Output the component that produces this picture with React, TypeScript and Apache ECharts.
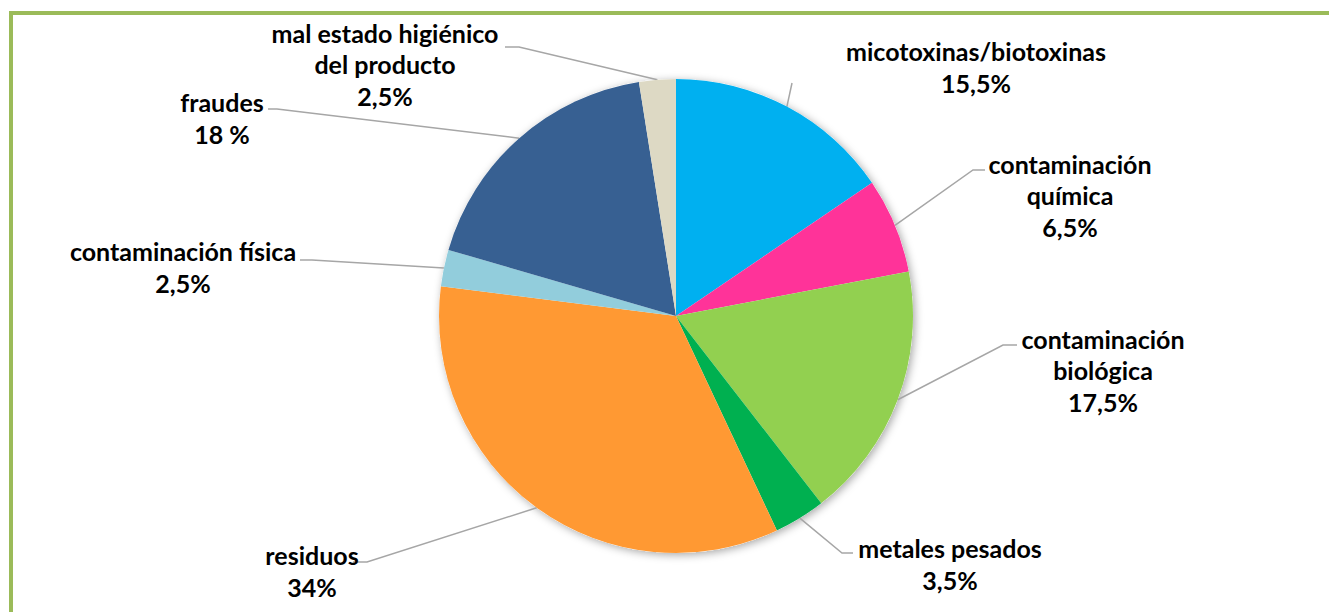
import React, { useEffect, useRef } from "react";
import * as echarts from "echarts";

const categories = [
  "micotoxinas/biotoxinas",
  "contaminación\nquímica",
  "contaminación\nbiológica",
  "metales pesados",
  "residuos",
  "contaminación física",
  "fraudes",
  "mal estado higiénico\ndel producto",
];
const values = [15.5, 6.5, 17.5, 3.5, 34, 2.5, 18, 2.5];
const valueLabels = ["15,5%", "6,5%", "17,5%", "3,5%", "34%", "2,5%", "18 %", "2,5%"];
const colors = ["#00B0F0", "#FF3399", "#92D050", "#00B050", "#FF9933", "#92CDDC", "#376092", "#DDD9C4"];

// label layout (centre of label block) and leader-line bend / end points, in px
const labelCenters: [number, number][] = [
  [976, 67],
  [1070, 195],
  [1103, 370],
  [950, 564],
  [312, 571],
  [183, 267],
  [222, 118],
  [385, 64],
];
const lineBends: [number, number][] = [
  [792, 83],
  [973, 170],
  [1003, 345],
  [842, 553],
  [367, 562],
  [312, 260],
  [277, 109],
  [519, 47],
];
const lineEnds: [number, number][] = [
  [792, 83],
  [985, 170],
  [1017, 345],
  [853, 553],
  [353, 562],
  [300, 260],
  [268, 109],
  [505, 47],
];

export default function App() {
  const ref = useRef<HTMLDivElement>(null);
  useEffect(() => {
    if (!ref.current) return;
    const chart = echarts.init(ref.current, null, { renderer: "svg" });
    const center = [676, 316];
    const radius = 237;
    chart.setOption({
      animation: false,
      backgroundColor: "#ffffff",
      graphic: [
        {
          type: "rect",
          shape: { x: 11, y: 13, width: 1330, height: 620 },
          style: { fill: "none", stroke: "#9BBB59", lineWidth: 4 },
          silent: true,
          z: 0,
        },
      ],
      series: [
        {
          type: "pie",
          silent: true,
          center,
          radius,
          startAngle: 90,
          clockwise: true,
          data: [{ value: 1 }],
          label: { show: false },
          labelLine: { show: false },
          itemStyle: {
            color: "#ffffff",
            shadowBlur: 8,
            shadowColor: "rgba(0,0,0,0.35)",
            shadowOffsetX: 2,
            shadowOffsetY: 2,
          },
          z: 1,
        },
        {
          type: "pie",
          center,
          radius,
          startAngle: 90,
          clockwise: true,
          avoidLabelOverlap: false,
          data: categories.map((name, i) => ({
            name,
            value: values[i],
            itemStyle: { color: colors[i] },
          })),
          label: {
            show: true,
            position: "outside",
            formatter: (p: any) => `${p.name}\n${valueLabels[p.dataIndex]}`,
            fontFamily: "Lato, 'Open Sans', sans-serif",
            fontWeight: "bold",
            fontSize: 25,
            lineHeight: 31.5,
            color: "#000000",
            align: "center",
          },
          labelLine: {
            show: true,
            length: 20,
            length2: 20,
            lineStyle: { color: "#A6A6A6", width: 1.5 },
          },
          labelLayout: (params: any) => {
            const i = params.dataIndex;
            const start = params.labelLinePoints ? params.labelLinePoints[0] : center;
            return {
              x: labelCenters[i][0],
              y: labelCenters[i][1],
              align: "center",
              verticalAlign: "middle",
              labelLinePoints: [start, lineBends[i], lineEnds[i]],
            };
          },
          z: 2,
        },
      ],
    });
    return () => chart.dispose();
  }, []);
  return (
    <div
      ref={ref}
      style={{ position: "absolute", left: 0, top: 0, width: 1329, height: 612 }}
    />
  );
}
